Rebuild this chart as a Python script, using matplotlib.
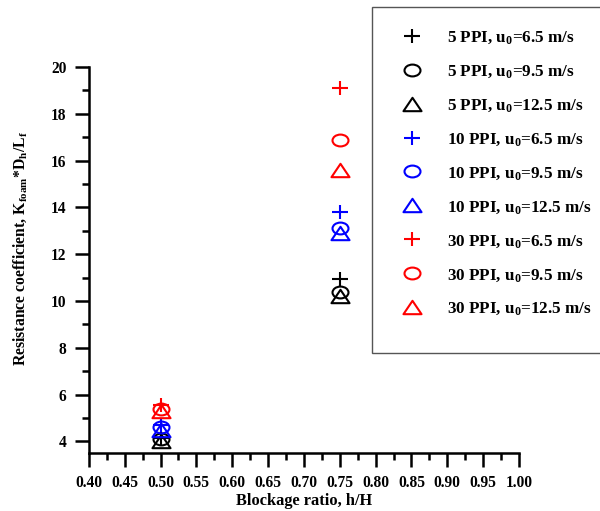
import matplotlib
matplotlib.use("Agg")
import matplotlib.pyplot as plt
from matplotlib.path import Path
from matplotlib.patches import Rectangle
from matplotlib.transforms import Affine2D
from matplotlib.ticker import MultipleLocator, FormatStrFormatter

plt.rcParams['font.family'] = ['Liberation Serif', 'DejaVu Serif']
plt.rcParams['font.weight'] = 'bold'
plt.rcParams['mathtext.fontset'] = 'custom'
plt.rcParams['mathtext.rm'] = 'Liberation Serif:bold'
plt.rcParams['mathtext.it'] = 'Liberation Serif:bold'
plt.rcParams['mathtext.bf'] = 'Liberation Serif:bold'

# Blockage ratios tested
blockage = [0.50, 0.75]

# Resistance coefficient per foam grade / inlet velocity
k_5ppi_65 = [4.15, 10.95]
k_5ppi_95 = [4.08, 10.4]
k_5ppi_125 = [4.0, 10.2]
k_10ppi_65 = [4.68, 13.8]
k_10ppi_95 = [4.6, 13.1]
k_10ppi_125 = [4.5, 12.9]
k_30ppi_65 = [5.55, 19.1]
k_30ppi_95 = [5.4, 16.88]
k_30ppi_125 = [5.3, 15.6]

labels = [
    r'5 PPI, u$_0$=6.5 m/s', r'5 PPI, u$_0$=9.5 m/s', r'5 PPI, u$_0$=12.5 m/s',
    r'10 PPI, u$_0$=6.5 m/s', r'10 PPI, u$_0$=9.5 m/s', r'10 PPI, u$_0$=12.5 m/s',
    r'30 PPI, u$_0$=6.5 m/s', r'30 PPI, u$_0$=9.5 m/s', r'30 PPI, u$_0$=12.5 m/s',
]

# slightly widened marker shapes
plus_path = Path([(-1, 0), (1, 0), (0, -1), (0, 1)],
                 [Path.MOVETO, Path.LINETO, Path.MOVETO, Path.LINETO])
plus_mk = plus_path.transformed(Affine2D().scale(1.2, 1.0))
ell_mk = Path.unit_circle().transformed(Affine2D().scale(1.35, 1.0))
tri_mk = Path([(0, 1), (-1, -1), (1, -1), (0, 1)],
              [Path.MOVETO, Path.LINETO, Path.LINETO, Path.CLOSEPOLY]
              ).transformed(Affine2D().scale(1.35, 1.0))
markers = {'+': (plus_mk, 11.5), 'o': (ell_mk, 11.5), '^': (tri_mk, 13)}

series = [
    (k_5ppi_65, 'k', '+'), (k_5ppi_95, 'k', 'o'), (k_5ppi_125, 'k', '^'),
    (k_10ppi_65, 'b', '+'), (k_10ppi_95, 'b', 'o'), (k_10ppi_125, 'b', '^'),
    (k_30ppi_65, 'r', '+'), (k_30ppi_95, 'r', 'o'), (k_30ppi_125, 'r', '^'),
]

fig = plt.figure(figsize=(6.0, 5.11), dpi=100)
ax = fig.add_axes([0.148, 0.1135, 0.717, 0.7555])

for (vals, col, mk), lab in zip(series, labels):
    path, ms = markers[mk]
    ax.plot(blockage, vals, linestyle='none', marker=path, markersize=ms,
            markerfacecolor='none', markeredgecolor=col, markeredgewidth=1.5,
            label=lab)

ax.set_xlim(0.40, 1.00)
ax.set_ylim(3.5, 20)
ax.xaxis.set_major_locator(MultipleLocator(0.05))
ax.xaxis.set_minor_locator(MultipleLocator(0.025))
ax.yaxis.set_minor_locator(MultipleLocator(1))
ax.set_yticks([4, 6, 8, 10, 12, 14, 16, 18, 20])
ax.xaxis.set_major_formatter(FormatStrFormatter('%.2f'))

for s in ['top', 'right']:
    ax.spines[s].set_visible(False)
for s in ['left', 'bottom']:
    ax.spines[s].set_linewidth(1.8)

ax.tick_params(which='major', direction='out', length=10, width=1.8,
               labelsize=11.2, pad=6)
ax.tick_params(which='minor', direction='out', length=5, width=1.8)
for t in ax.get_xticklabels() + ax.get_yticklabels():
    t.set_fontweight('bold')

ax.set_xlabel('Blockage ratio, h/H', fontsize=11.8, fontweight='bold')
ax.xaxis.set_label_coords(0.5, -0.103)
ax.set_ylabel(r'Resistance coefficient, K$_{\rm foam}$*D$_{\rm h}$/L$_{\rm f}$',
              fontsize=11.3, fontweight='bold')
ax.yaxis.set_label_coords(-0.138, 0.53)

# legend box running off the right edge of the figure
fig.add_artist(Rectangle((372 / 600, 1 - 353 / 511), 0.5, 346 / 511,
                         transform=fig.transFigure, facecolor='white',
                         edgecolor='#555555', linewidth=1.0, zorder=1))
leg = fig.legend(loc='upper left', bbox_to_anchor=(390 / 600, 1 - 21 / 511),
                 bbox_transform=fig.transFigure, frameon=False,
                 labelspacing=1.0, borderpad=0.5, handletextpad=1.25,
                 borderaxespad=0, handlelength=1.6,
                 prop={'weight': 'bold', 'size': 12.3})
leg.set_zorder(2)

fig.savefig('out.png', dpi=100, facecolor='white')
